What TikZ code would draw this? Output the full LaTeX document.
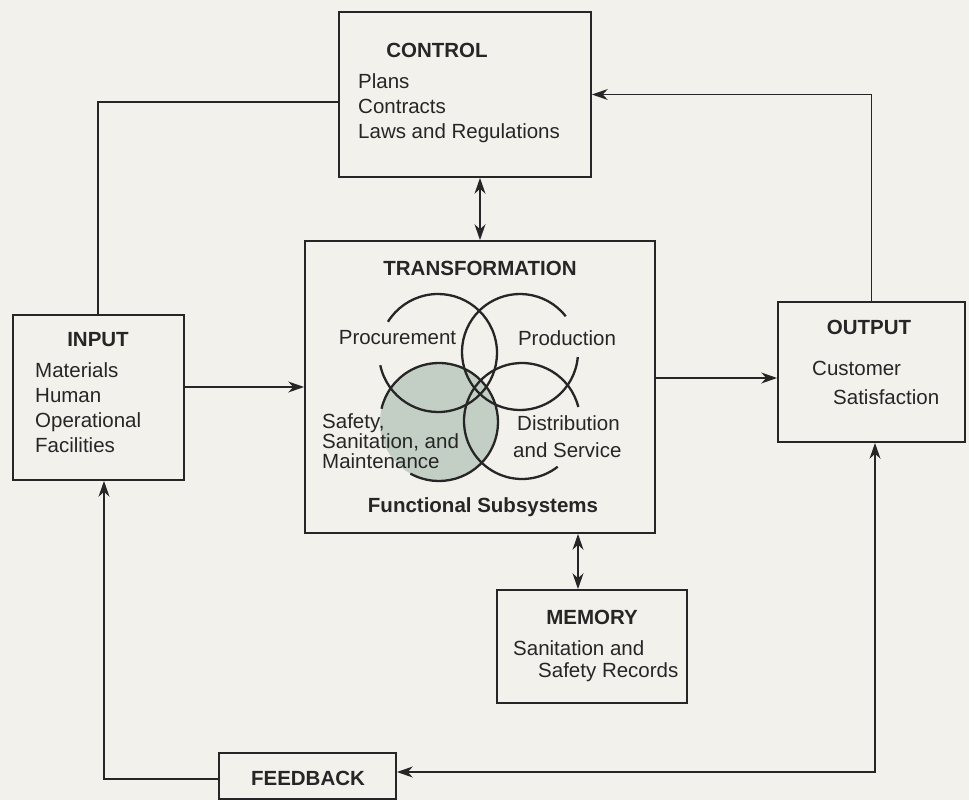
\documentclass[tikz,border=0pt]{standalone}
\usepackage{fontspec}
\setmainfont{Liberation Sans}
\usetikzlibrary{arrows.meta,calc}
\definecolor{paper}{HTML}{F2F1EC}
\definecolor{ink}{HTML}{262626}
\definecolor{venn}{HTML}{C3CFC4}
\begin{document}
\begin{tikzpicture}[x=1pt,y=-1pt,
  box/.style={draw=ink, line width=1.7pt, inner sep=0pt},
  lbl/.style={font=\fontsize{20.5}{25}\selectfont, text=ink, inner sep=0pt},
  ttl/.style={font=\fontsize{20.5}{25}\selectfont\bfseries, text=ink, inner sep=0pt},
  conn/.style={draw=ink, line width=1.6pt},
  tip/.style={-{Stealth[length=16pt,width=11pt]}},
  tips/.style={{Stealth[length=16pt,width=11pt]}-{Stealth[length=16pt,width=11pt]}},
  ring/.style={draw=ink, line width=2.3pt}]
\useasboundingbox (0,0) rectangle (969,800);
\fill[paper] (0,0) rectangle (969,800);
\clip (0,0) rectangle (969,800);

% boxes
\node[box, minimum width=252pt, minimum height=165pt] (control) at (465,94.5) {};
\node[box, minimum width=350pt, minimum height=292pt] (transformation) at (480,387) {};
\node[box, minimum width=171pt, minimum height=165pt] (input) at (98.5,397.5) {};
\node[box, minimum width=187pt, minimum height=140pt] (output) at (871.5,372) {};
\node[box, minimum width=190pt, minimum height=113pt] (memory) at (592,646.5) {};
\node[box, minimum width=177pt, minimum height=46pt] (feedback) at (307.5,776) {};

% Venn diagram
\fill[venn] (439,422) circle[radius=59];
\draw[ring] ([shift={(-192:59)}]438,353) arc[start angle=-192, end angle=-508, radius=59];
\draw[ring] ([shift={(-38:58)}]520,352) arc[start angle=-38, end angle=-355, radius=58];
\draw[ring] ([shift={(-241:59)}]439,422) arc[start angle=-241, end angle=-527, radius=59];
\draw[ring] ([shift={(-14:58)}]522,421) arc[start angle=-14, end angle=-308, radius=58];

% texts
\node[ttl] (controlT) at (437,50) {CONTROL};
\node[lbl, anchor=west, align=left] (controlL) at (358,108.5) {Plans\\Contracts\\Laws and Regulations};
\node[ttl] (transT) at (480,268) {TRANSFORMATION};
\node[ttl] (funcT) at (483,507) {Functional Subsystems};
\node[lbl] (proc) at (397.5,338) {Procurement};
\node[lbl] (prod) at (567,338) {Production};
\node[lbl, anchor=west, align=left, font=\fontsize{20.5}{20}\selectfont] (safety) at (322,441.5) {Safety,\\Sanitation, and\\Maintenance};
\node[lbl, anchor=west] (dist) at (517,423) {Distribution};
\node[lbl, anchor=west] (serv) at (513,450) {and Service};
\node[ttl] (inputT) at (98,340) {INPUT};
\node[lbl, anchor=west, align=left] (inputL) at (35,407.5) {Materials\\Human\\Operational\\Facilities};
\node[ttl] (outputT) at (869,327) {OUTPUT};
\node[lbl, anchor=west] (cust) at (812,368) {Customer};
\node[lbl, anchor=west] (satis) at (833,397) {Satisfaction};
\node[ttl] (memT) at (592,617) {MEMORY};
\node[lbl, anchor=west] (san) at (513,648) {Sanitation and};
\node[lbl, anchor=west] (rec) at (538,672) {Safety Records};
\node[ttl] (fbT) at (308,778) {FEEDBACK};

% connectors
\coordinate (lx) at (98,102);
\draw[conn] (control.west |- lx) -- (lx) -- (input.north -| lx);
\draw[conn, tip] (output.north) |- (control.east);
\draw[conn, tips] (control.south -| transformation.north) -- (transformation.north);
\draw[conn, tip] (input.east |- transformation.west) -- (transformation.west);
\coordinate (oy) at (700,378);
\draw[conn, tip] (transformation.east |- oy) -- (output.west |- oy);
\coordinate (mx) at (578,560);
\draw[conn, tips] (transformation.south -| mx) -- (memory.north -| mx);
\coordinate (fr) at (875,772);
\draw[conn, tips] (output.south -| fr) -- (fr) -- (feedback.east |- fr);
\coordinate (fl) at (104,779);
\draw[conn, tip] (feedback.west |- fl) -- (fl) -- (input.south -| fl);
\end{tikzpicture}
\end{document}
